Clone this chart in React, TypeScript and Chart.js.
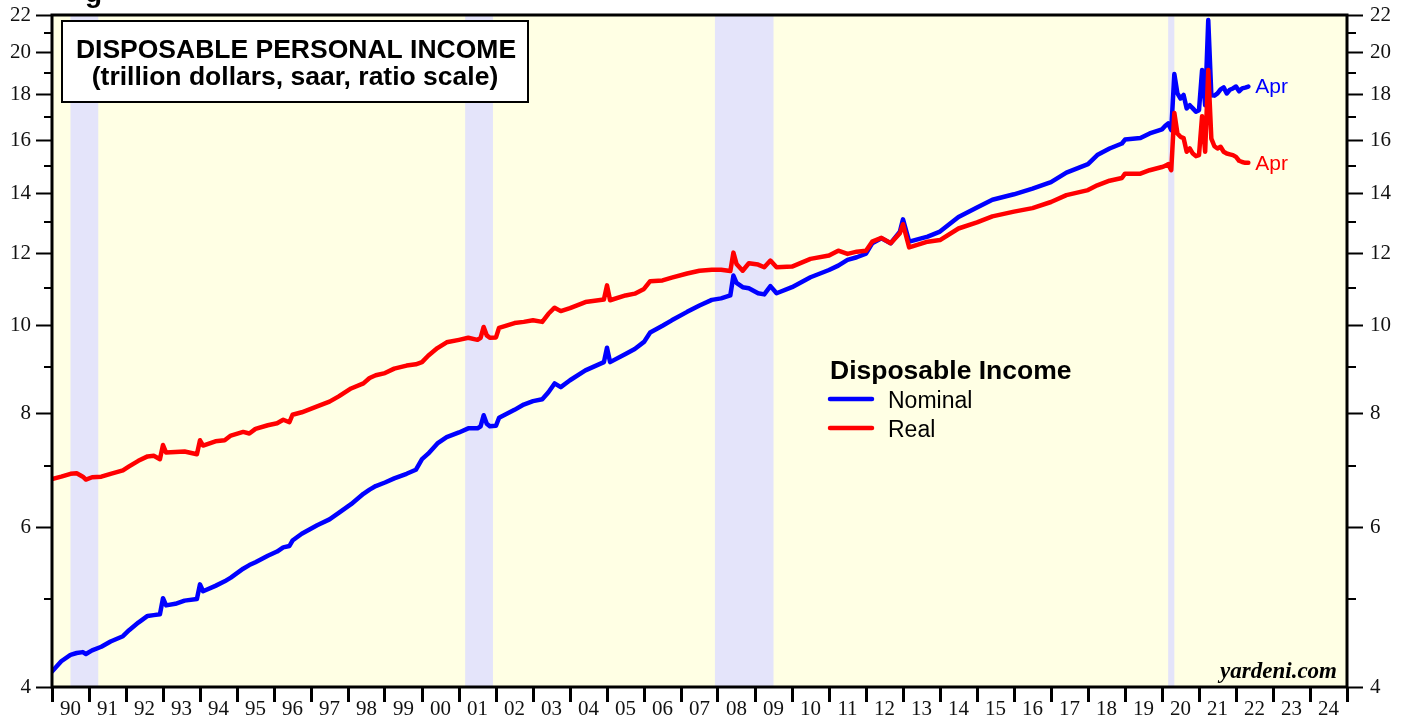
import { useEffect, useRef } from "react";
import { Chart, registerables } from "chart.js";

Chart.register(...registerables);

// ---- data (month-end observations, trillion dollars saar) ----
const months: string[] = [
  "1989-12", "1990-03", "1990-06", "1990-08", "1990-10", "1990-11", "1991-01", "1991-04", "1991-07", "1991-11",
  "1992-01", "1992-04", "1992-07", "1992-09", "1992-11", "1992-12", "1993-01", "1993-04", "1993-07", "1993-11",
  "1993-12", "1994-01", "1994-05", "1994-08", "1994-10", "1995-02", "1995-04", "1995-06", "1995-10", "1996-01",
  "1996-03", "1996-05", "1996-06", "1996-09", "1997-02", "1997-06", "1997-09", "1998-01", "1998-05", "1998-07",
  "1998-09", "1998-12", "1999-03", "1999-07", "1999-10", "1999-12", "2000-02", "2000-05", "2000-08", "2000-12",
  "2001-03", "2001-06", "2001-07", "2001-08", "2001-09", "2001-10", "2001-12", "2002-01", "2002-06", "2002-09",
  "2002-12", "2003-03", "2003-05", "2003-07", "2003-09", "2003-12", "2004-05", "2004-11", "2004-12", "2005-01",
  "2005-06", "2005-09", "2005-12", "2006-02", "2006-06", "2006-09", "2007-02", "2007-06", "2007-10", "2008-01",
  "2008-04", "2008-05", "2008-06", "2008-08", "2008-10", "2009-01", "2009-03", "2009-05", "2009-07", "2009-12",
  "2010-06", "2010-12", "2011-03", "2011-06", "2011-09", "2011-12", "2012-02", "2012-05", "2012-08", "2012-11",
  "2012-12", "2013-02", "2013-08", "2013-12", "2014-06", "2014-12", "2015-05", "2015-12", "2016-06", "2016-12",
  "2017-05", "2017-12", "2018-03", "2018-07", "2018-11", "2018-12", "2019-05", "2019-08", "2019-12", "2020-01",
  "2020-02", "2020-03", "2020-04", "2020-05", "2020-06", "2020-07", "2020-08", "2020-09", "2020-10", "2020-11",
  "2020-12", "2021-01", "2021-02", "2021-03", "2021-04", "2021-05", "2021-06", "2021-07", "2021-08", "2021-09",
  "2021-10", "2021-11", "2021-12", "2022-01", "2022-02", "2022-03", "2022-04",
];

const nominal: number[] = [
  4.16, 4.27, 4.34, 4.36, 4.37, 4.35, 4.39, 4.43, 4.49, 4.55,
  4.62, 4.71, 4.79, 4.80, 4.81, 5.01, 4.92, 4.94, 4.98, 5.00,
  5.19, 5.10, 5.17, 5.23, 5.28, 5.40, 5.45, 5.49, 5.58, 5.64,
  5.70, 5.72, 5.80, 5.90, 6.03, 6.12, 6.22, 6.36, 6.53, 6.60,
  6.66, 6.72, 6.79, 6.87, 6.94, 7.13, 7.23, 7.42, 7.54, 7.63,
  7.71, 7.71, 7.75, 7.97, 7.80, 7.75, 7.76, 7.92, 8.08, 8.19,
  8.26, 8.30, 8.45, 8.64, 8.56, 8.71, 8.93, 9.12, 9.46, 9.12,
  9.31, 9.43, 9.60, 9.83, 10.0, 10.14, 10.36, 10.53, 10.68, 10.72,
  10.80, 11.36, 11.15, 11.03, 11.0, 10.86, 10.83, 11.06, 10.86, 11.03,
  11.31, 11.52, 11.65, 11.82, 11.90, 12.01, 12.33, 12.49, 12.33, 12.70,
  13.10, 12.38, 12.54, 12.70, 13.18, 13.50, 13.77, 13.96, 14.16, 14.40,
  14.75, 15.07, 15.42, 15.68, 15.88, 16.04, 16.10, 16.29, 16.46, 16.60,
  16.71, 16.43, 18.94, 18.03, 17.80, 17.96, 17.36, 17.50, 17.36, 17.21,
  17.28, 19.13, 17.50, 21.72, 17.95, 17.93, 18.03, 18.22, 18.31, 18.03,
  18.20, 18.26, 18.35, 18.13, 18.26, 18.30, 18.35,
];

const real: number[] = [
  6.78, 6.82, 6.87, 6.88, 6.82, 6.77, 6.81, 6.82, 6.87, 6.93,
  7.00, 7.10, 7.18, 7.19, 7.13, 7.39, 7.25, 7.26, 7.27, 7.22,
  7.48, 7.38, 7.46, 7.48, 7.57, 7.64, 7.61, 7.70, 7.77, 7.81,
  7.88, 7.83, 7.98, 8.03, 8.15, 8.25, 8.36, 8.53, 8.64, 8.76,
  8.82, 8.87, 8.97, 9.04, 9.07, 9.12, 9.27, 9.45, 9.59, 9.65,
  9.70, 9.65, 9.70, 9.97, 9.76, 9.70, 9.71, 9.95, 10.07, 10.10,
  10.14, 10.10, 10.31, 10.47, 10.38, 10.46, 10.62, 10.69, 11.08, 10.67,
  10.80, 10.85, 10.98, 11.20, 11.22, 11.30, 11.42, 11.50, 11.53, 11.53,
  11.49, 12.04, 11.70, 11.50, 11.72, 11.68, 11.60, 11.80, 11.60, 11.62,
  11.85, 11.95, 12.10, 12.00, 12.07, 12.10, 12.38, 12.50, 12.33, 12.65,
  12.94, 12.20, 12.38, 12.43, 12.80, 13.00, 13.20, 13.36, 13.48, 13.69,
  13.93, 14.11, 14.28, 14.45, 14.55, 14.71, 14.71, 14.84, 14.96, 15.00,
  15.07, 14.84, 17.16, 16.29, 16.15, 16.10, 15.55, 15.68, 15.48, 15.38,
  15.42, 17.02, 15.55, 19.13, 16.08, 15.77, 15.68, 15.75, 15.55, 15.48,
  15.45, 15.42, 15.35, 15.20, 15.15, 15.12, 15.12,
];

const recessionStarts: number[] = [1990.5, 2001.167, 2007.917, 2020.167];
const recessionEnds: number[] = [1991.25, 2001.917, 2009.5, 2020.333];

const yearLabels: string[] = [
  "90", "91", "92", "93", "94", "95", "96", "97", "98", "99", "00", "01",
  "02", "03", "04", "05", "06", "07", "08", "09", "10", "11", "12", "13",
  "14", "15", "16", "17", "18", "19", "20", "21", "22", "23", "24",
];
const firstYear = 1990;
const yTickValues: number[] = [4, 5, 6, 7, 8, 9, 10, 11, 12, 13, 14, 15, 16, 17, 18, 19, 20, 21, 22];
const yTickLabels: string[] = ["4", "", "6", "", "8", "", "10", "", "12", "", "14", "", "16", "", "18", "", "20", "", "22"];

const titleLines: string[] = ["DISPOSABLE PERSONAL INCOME", "(trillion dollars, saar, ratio scale)"];
const legendTitle = "Disposable Income";
const seriesNames: string[] = ["Nominal", "Real"];
const seriesColors: string[] = ["#0000FF", "#FF0000"];
const endLabel = "Apr";
const sourceText = "yardeni.com";

const SANS = "'Liberation Sans', Arial, sans-serif";
const SERIF = "'Liberation Serif', 'Times New Roman', serif";

const toX = (m: string) => {
  const [y, mo] = m.split("-").map(Number);
  return y + mo / 12;
};

const decorPlugin = {
  id: "decor",
  beforeDraw(chart: any) {
    const { ctx, chartArea: a, scales } = chart;
    const xs = scales.x;
    ctx.save();
    ctx.fillStyle = "#FFFFE4";
    ctx.fillRect(a.left, a.top, a.right - a.left, a.bottom - a.top);
    ctx.fillStyle = "#E4E4FA";
    for (let i = 0; i < recessionStarts.length; i++) {
      const x0 = xs.getPixelForValue(recessionStarts[i]);
      const x1 = xs.getPixelForValue(recessionEnds[i]);
      ctx.fillRect(x0, a.top, x1 - x0, a.bottom - a.top);
    }
    ctx.restore();
  },
  afterDraw(chart: any) {
    const { ctx, chartArea: a, scales } = chart;
    const ys = scales.y;
    const xs = scales.x;
    ctx.save();
    // minor ticks
    ctx.strokeStyle = "#000";
    ctx.lineWidth = 2;
    yTickValues.forEach((v, i) => {
      if (yTickLabels[i] !== "") return;
      const py = Math.round(ys.getPixelForValue(v));
      ctx.beginPath();
      ctx.moveTo(a.left - 8, py);
      ctx.lineTo(a.left, py);
      ctx.moveTo(a.right, py);
      ctx.lineTo(a.right + 9, py);
      ctx.stroke();
    });
    // frame
    ctx.lineWidth = 3;
    ctx.strokeRect(a.left, a.top, a.right - a.left, a.bottom - a.top);

    // cut-off text at the very top
    ctx.fillStyle = "#000";
    ctx.font = `bold 28px ${SANS}`;
    ctx.textAlign = "left";
    ctx.textBaseline = "alphabetic";
    ctx.fillText("g", 85, 2);

    // title box
    ctx.fillStyle = "#FFFFFF";
    ctx.fillRect(62, 21, 466, 81);
    ctx.lineWidth = 2;
    ctx.strokeRect(62, 21, 466, 81);
    ctx.fillStyle = "#000";
    ctx.font = `bold 26.5px ${SANS}`;
    ctx.textAlign = "center";
    ctx.fillText(titleLines[0], 296, 58);
    ctx.fillText(titleLines[1], 295, 85);

    // legend
    ctx.textAlign = "left";
    ctx.font = `bold 26.5px ${SANS}`;
    ctx.fillText(legendTitle, 830, 379);
    ctx.font = `23px ${SANS}`;
    ctx.lineCap = "round";
    ctx.lineWidth = 4.5;
    seriesNames.forEach((name, i) => {
      const ly = 399 + i * 29;
      ctx.strokeStyle = seriesColors[i];
      ctx.beginPath();
      ctx.moveTo(830, ly);
      ctx.lineTo(872, ly);
      ctx.stroke();
      ctx.fillStyle = "#000";
      ctx.fillText(name, 888, ly + 9);
    });

    // end labels
    ctx.font = `21px ${SANS}`;
    ctx.textBaseline = "middle";
    const lastX = xs.getPixelForValue(toX(months[months.length - 1]));
    [nominal, real].forEach((arr, i) => {
      ctx.fillStyle = seriesColors[i];
      ctx.fillText(endLabel, lastX + 7, ys.getPixelForValue(arr[arr.length - 1]) + 1);
    });

    // source
    ctx.fillStyle = "#000";
    ctx.textAlign = "right";
    ctx.textBaseline = "alphabetic";
    ctx.font = `italic bold 23px ${SERIF}`;
    ctx.fillText(sourceText, 1337, 678);
    ctx.restore();
  },
};

function yAxis(position: "left" | "right", width: number, padding: number) {
  return {
    type: "logarithmic" as const,
    position,
    min: 4,
    max: 22,
    afterBuildTicks: (s: any) => {
      s.ticks = yTickValues.map((v) => ({ value: v }));
    },
    afterFit: (s: any) => {
      s.width = width;
      s.paddingTop = 0;
      s.paddingBottom = 0;
    },
    ticks: {
      autoSkip: false,
      padding,
      color: "#111",
      font: { family: SERIF, size: 21 },
      callback: (_v: any, i: number) => yTickLabels[i],
    },
    grid: {
      drawOnChartArea: false,
      drawTicks: true,
      tickLength: 16,
      tickWidth: 2,
      tickColor: (c: any) => (yTickLabels[c.index] ? "#000" : "rgba(0,0,0,0)"),
    },
    border: { display: false },
  };
}

export default function App() {
  const ref = useRef<HTMLCanvasElement | null>(null);

  useEffect(() => {
    if (!ref.current) return;
    const xTickValues: number[] = [];
    for (let i = 0; i <= yearLabels.length; i++) {
      xTickValues.push(firstYear + i);
      if (i < yearLabels.length) xTickValues.push(firstYear + i + 0.5);
    }
    const chart = new Chart(ref.current, {
      type: "line",
      data: {
        datasets: [
          {
            label: seriesNames[0],
            data: months.map((m, i) => ({ x: toX(m), y: nominal[i] })),
            borderColor: seriesColors[0],
            borderWidth: 4.5,
            pointRadius: 0,
            tension: 0,
            borderJoinStyle: "round",
            borderCapStyle: "round",
            order: 1,
            yAxisID: "y",
          },
          {
            label: seriesNames[1],
            data: months.map((m, i) => ({ x: toX(m), y: real[i] })),
            borderColor: seriesColors[1],
            borderWidth: 4.5,
            pointRadius: 0,
            tension: 0,
            borderJoinStyle: "round",
            borderCapStyle: "round",
            order: 0,
            yAxisID: "y",
          },
        ],
      },
      options: {
        responsive: false,
        animation: false,
        devicePixelRatio: 1,
        layout: { padding: { top: 15, left: 0, right: 0, bottom: 0 } },
        plugins: { legend: { display: false }, tooltip: { enabled: false }, title: { display: false } },
        scales: {
          x: {
            type: "linear",
            position: "bottom",
            min: firstYear,
            max: firstYear + yearLabels.length,
            afterBuildTicks: (s: any) => {
              s.ticks = xTickValues.map((v) => ({ value: v }));
            },
            afterFit: (s: any) => {
              s.height = 32;
              s.paddingLeft = 0;
              s.paddingRight = 0;
            },
            ticks: {
              autoSkip: false,
              maxRotation: 0,
              minRotation: 0,
              padding: -5,
              color: "#111",
              font: { family: SERIF, size: 21 },
              callback: (v: any) => {
                const n = Number(v);
                if (Number.isInteger(n)) return "";
                return yearLabels[Math.floor(n) - firstYear];
              },
            },
            grid: {
              drawOnChartArea: false,
              drawTicks: true,
              tickLength: 15,
              tickWidth: 3,
              tickColor: (c: any) => (Number.isInteger(c.tick?.value) ? "#000" : "rgba(0,0,0,0)"),
            },
            border: { display: false },
          },
          y: yAxis("left", 52, 5),
          y2: yAxis("right", 60, 7),
        },
      } as any,
      plugins: [decorPlugin],
    });
    return () => chart.destroy();
  }, []);

  return (
    <div style={{ position: "fixed", left: 0, top: 0, width: 1407, height: 719, background: "#fff" }}>
      <canvas ref={ref} width={1407} height={719} />
    </div>
  );
}
